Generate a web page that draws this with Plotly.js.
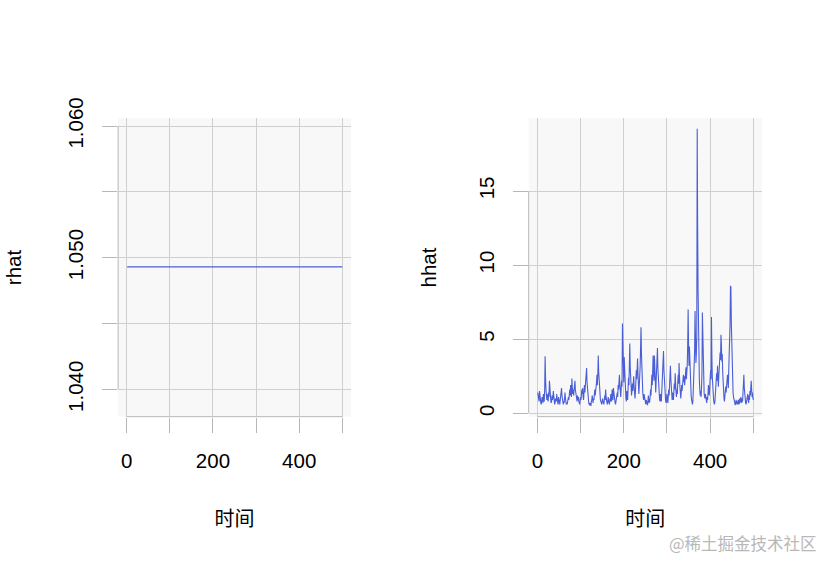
<!DOCTYPE html>
<html>
<head>
<meta charset="utf-8">
<script src="https://cdn.plot.ly/plotly-3.0.1.min.js"></script>
<style>html,body{margin:0;padding:0;background:#fff;}#chart{width:823px;height:564px;}</style>
</head>
<body>
<div id="chart"></div>
<script>
// ---- data ----
const rhatValue = 1.0493;           // constant rhat
const hhat = [
  1.4, 1.2, 1.0, 0.8, 1.5, 1.1, 0.9, 0.7, 0.6, 0.8,
  1.1, 0.9, 0.7, 1.3, 1.0, 0.8, 1.6, 3.85, 2.4, 1.6,
  1.2, 0.9, 1.3, 1.0, 0.8, 1.4, 1.1, 2.2, 1.5, 1.1,
  0.9, 0.7, 0.8, 1.2, 0.9, 1.0, 1.5, 1.1, 0.8, 0.6,
  0.7, 1.0, 0.8, 0.9, 1.3, 0.9, 0.7, 0.6, 1.1, 0.8,
  0.7, 0.6, 0.9, 1.2, 1.0, 1.7, 1.2, 0.9, 0.7, 0.6,
  0.8, 0.7, 1.0, 1.4, 1.0, 0.8, 0.6, 0.7, 0.6, 0.9,
  0.8, 1.1, 0.9, 1.3, 1.6, 1.2, 1.9, 1.4, 1.1, 2.35,
  1.7, 1.3, 1.6, 1.2, 1.5, 1.9, 2.2, 1.6, 1.2, 1.4,
  1.0, 0.8, 1.2, 0.9, 1.1, 0.8, 0.7, 0.6, 0.9, 1.1,
  0.9, 1.2, 1.6, 1.3, 1.7, 1.1, 0.9, 1.4, 1.9, 1.4,
  2.0, 1.7, 2.4, 3.06, 2.1, 1.5, 1.1, 0.8, 0.7, 0.6,
  0.55, 0.7, 0.6, 0.5, 0.8, 0.9, 1.2, 0.8, 0.7, 1.0,
  0.9, 1.3, 1.6, 1.2, 1.9, 1.5, 2.1, 2.6, 1.9, 2.7,
  3.9, 2.8, 2.0, 1.4, 1.1, 0.9, 0.8, 0.7, 0.6, 0.8,
  1.0, 0.8, 0.7, 0.6, 0.9, 1.2, 0.9, 1.6, 1.2, 0.9,
  0.7, 0.6, 0.8, 1.1, 0.8, 0.7, 0.6, 1.0, 0.8, 1.3,
  1.0, 0.8, 1.6, 1.2, 0.9, 1.7, 1.3, 1.0, 0.8, 0.7,
  0.6, 0.8, 0.7, 1.0, 1.4, 1.1, 1.9, 1.6, 2.1, 2.6,
  1.9, 1.4, 1.1, 1.6, 2.2, 1.8, 6.05, 5.0, 3.2, 2.1,
  3.8, 2.6, 1.8, 1.3, 1.0, 0.8, 1.5, 1.1, 0.9, 1.8,
  2.4, 1.9, 3.2, 4.7, 3.1, 2.2, 1.6, 1.2, 1.5, 2.0,
  1.5, 2.3, 2.5, 1.8, 1.3, 1.0, 1.4, 2.1, 2.9, 2.3,
  2.8, 3.7, 2.6, 1.8, 1.3, 1.9, 2.4, 3.2, 4.5, 5.8,
  4.0, 2.7, 1.9, 1.4, 1.1, 0.9, 1.3, 1.0, 0.8, 0.7,
  0.6, 0.9, 0.7, 0.6, 0.55, 0.8, 1.2, 0.9, 0.7, 0.8,
  1.1, 1.6, 1.2, 2.0, 2.6, 1.9, 2.7, 3.9, 2.8, 2.2,
  3.9, 2.7, 1.9, 1.4, 2.2, 3.0, 2.6, 4.4, 3.0, 2.1,
  1.5, 1.1, 0.9, 0.8, 1.3, 1.0, 0.8, 1.6, 2.2, 2.8,
  3.5, 4.2, 2.9, 2.0, 1.4, 1.0, 0.8, 0.7, 1.0, 1.3,
  0.9, 0.7, 1.1, 1.6, 1.2, 2.2, 2.5, 3.2, 2.3, 1.6,
  1.2, 0.9, 1.4, 1.1, 0.9, 1.5, 2.0, 1.6, 2.7, 2.0,
  1.4, 1.1, 1.6, 1.3, 2.1, 2.6, 2.0, 3.4, 2.5, 1.8,
  1.3, 1.0, 1.4, 1.9, 1.5, 2.2, 1.7, 2.6, 2.1, 2.5,
  1.9, 2.4, 2.8, 3.1, 2.3, 2.7, 3.3, 4.6, 7.0, 4.5,
  3.2, 4.5, 3.3, 2.4, 1.7, 1.2, 0.9, 0.7, 0.6, 0.8,
  1.5, 2.3, 3.6, 4.2, 6.9, 4.8, 3.4, 4.0, 5.2, 19.2,
  12.7, 8.3, 5.0, 3.3, 2.2, 1.6, 1.2, 1.5, 1.1, 1.8,
  2.6, 6.8, 4.4, 2.9, 2.0, 1.4, 1.1, 1.0, 1.3, 0.9,
  0.8, 0.7, 1.1, 0.9, 1.3, 1.9, 1.5, 1.2, 1.6, 2.2,
  2.9, 2.3, 6.5, 3.8, 2.4, 1.6, 1.1, 0.9, 0.7, 0.6,
  0.8, 1.2, 1.6, 2.1, 2.7, 2.2, 3.2, 2.4, 1.8, 2.5,
  3.1, 2.7, 4.1, 3.6, 5.3, 4.6, 3.5, 4.0, 2.8, 1.9,
  1.4, 1.0, 0.8, 1.3, 1.1, 1.8, 1.4, 2.3, 1.9, 2.6,
  2.3, 1.7, 2.9, 3.6, 4.5, 6.0, 8.6, 8.5, 6.1, 4.3,
  2.9, 2.0, 1.4, 1.1, 0.9, 0.7, 0.6, 0.55, 0.7, 0.9,
  0.7, 0.6, 0.8, 0.6, 0.9, 0.7, 0.6, 1.0, 0.7, 0.8,
  1.1, 0.8, 0.7, 1.0, 0.8, 1.4, 1.9, 2.6, 1.7, 1.2,
  0.9, 0.7, 0.6, 0.8, 0.7, 1.0, 1.3, 0.9, 0.7, 1.2,
  0.9, 1.5, 1.2, 1.7, 2.2, 1.6, 1.1, 1.4, 1.0, 0.9
];
const time = hhat.map((_, i) => i + 1);
const rhat = time.map(() => rhatValue);

const xTickVals = [0, 100, 200, 300, 400, 500];
const xTickText = ['0', '', '200', '', '400', ''];
const rTickVals = [1.040, 1.045, 1.050, 1.055, 1.060];
const rTickText = ['1.040', '', '1.050', '', '1.060'];
const hTickVals = [0, 5, 10, 15];
const hTickText = ['0', '5', '10', '15'];
const xTitle = '时间';

// ---- styling ----
const lineColor = '#4a5ed6';
const axisGray = '#b7b7b7';
const gridGray = '#cfcfcf';
const font = {family: 'Liberation Sans, Arial, sans-serif', size: 20.5, color: '#000'};
const cjkFont = {family: 'Noto Sans CJK SC, sans-serif', size: 20, color: '#000'};
const yDom = [0.2612, 0.7902];

function xAxis(dom, anchor) {
  return {
    domain: dom, anchor: anchor, range: [-20, 520],
    tickmode: 'array', tickvals: xTickVals, ticktext: xTickText,
    ticks: 'outside', ticklen: 15, tickcolor: axisGray, tickwidth: 1,
    ticklabelstandoff: 11,
    showgrid: true, gridcolor: gridGray, gridwidth: 1,
    zeroline: false, showline: false, tickfont: font,
    title: {text: xTitle, font: cjkFont, standoff: 40}
  };
}
function yAxis(range, vals, text, anchor, title, standoff) {
  return {
    domain: yDom, anchor: anchor, range: range,
    tickmode: 'array', tickvals: vals, ticktext: text, tickangle: -90,
    ticks: 'outside', ticklen: 15, tickcolor: axisGray, tickwidth: 1,
    ticklabelstandoff: 11,
    showgrid: true, gridcolor: gridGray, gridwidth: 1,
    zeroline: false, showline: false, tickfont: font,
    title: {text: title, font: font, standoff: standoff}
  };
}

const data = [
  {x: time, y: rhat, type: 'scatter', mode: 'lines', xaxis: 'x', yaxis: 'y',
   line: {color: lineColor, width: 1.1}, hoverinfo: 'skip'},
  {x: time, y: hhat, type: 'scatter', mode: 'lines', xaxis: 'x2', yaxis: 'y2',
   line: {color: lineColor, width: 1.1}, hoverinfo: 'skip'}
];

const layout = {
  width: 823, height: 564,
  margin: {l: 0, r: 0, t: 0, b: 0},
  paper_bgcolor: '#ffffff', plot_bgcolor: '#f8f8f8',
  showlegend: false,
  xaxis: xAxis([0.1435, 0.4264], 'y'),
  yaxis: yAxis([1.037919, 1.060585], rTickVals, rTickText, 'x', 'rhat', 36),
  xaxis2: xAxis([0.6424, 0.9259], 'y2'),
  yaxis2: yAxis([-0.23, 19.905], hTickVals, hTickText, 'x2', 'hhat', 32),
  shapes: [
    {type: 'line', xref: 'x', yref: 'paper', x0: 0, x1: 500, y0: yDom[0], y1: yDom[0], line: {color: axisGray, width: 1}},
    {type: 'line', xref: 'paper', yref: 'y', x0: 0.1435, x1: 0.1435, y0: 1.040, y1: 1.060, line: {color: axisGray, width: 1}},
    {type: 'line', xref: 'x2', yref: 'paper', x0: 0, x1: 500, y0: yDom[0], y1: yDom[0], line: {color: axisGray, width: 1}},
    {type: 'line', xref: 'paper', yref: 'y2', x0: 0.6424, x1: 0.6424, y0: 0, y1: 15, line: {color: axisGray, width: 1}}
  ],
  annotations: [
    {text: '@稀土掘金技术社区', xref: 'paper', yref: 'paper', x: 0.995, y: 0.012,
     xanchor: 'right', yanchor: 'bottom', showarrow: false,
     font: {family: 'Noto Sans CJK SC, sans-serif', size: 16.5, color: '#b8b8b8'}}
  ]
};

Plotly.newPlot('chart', data, layout, {displayModeBar: false, staticPlot: true});
</script>
</body>
</html>
